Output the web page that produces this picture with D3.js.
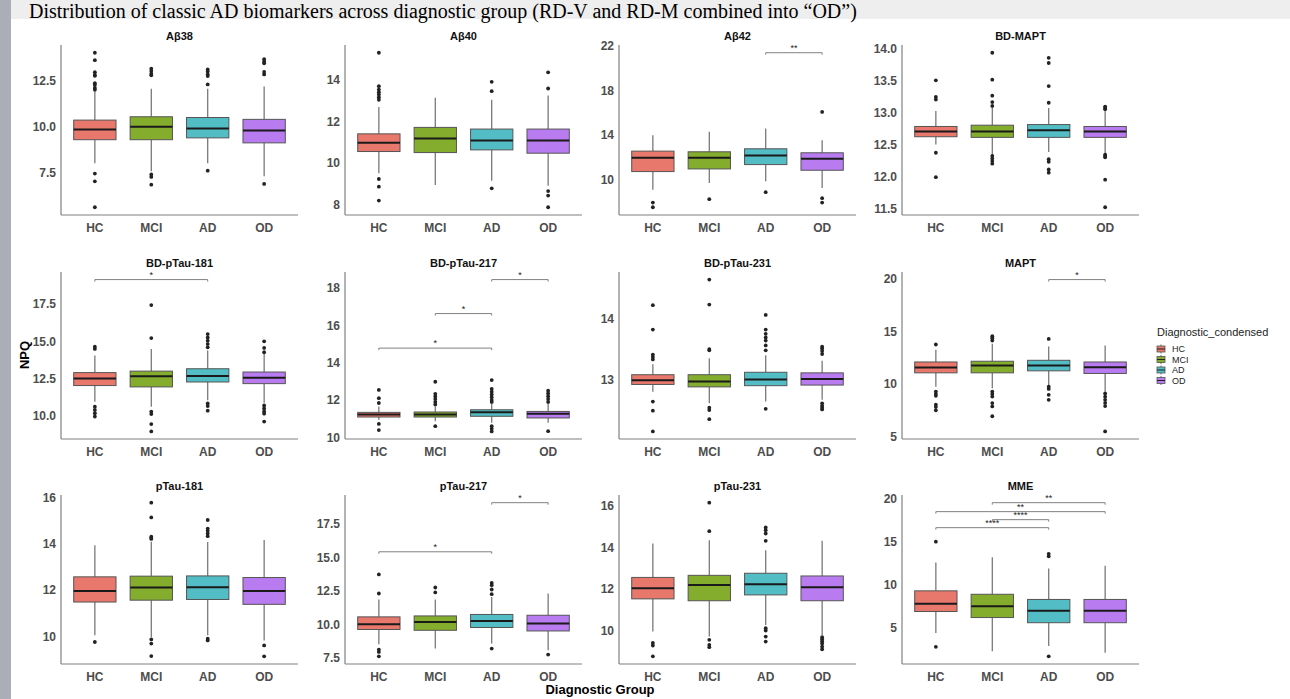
<!DOCTYPE html>
<html lang="en">
<head>
<meta charset="utf-8">
<script src="https://d3js.org/d3.v7.min.js"></script>
<style>
  body { margin: 0; background: #fff; }
  svg { display: block; font-family: "Liberation Sans", Arial, sans-serif; }
</style>
</head>
<body>
<script>
// groups and colours
const groups = ["HC", "MCI", "AD", "OD"];
const groupColors = ["#e8776c", "#84ad2e", "#52bdc4", "#b87bf0"];

// each box row: [whisker low, q1, median, q3, whisker high]
const ab38Box = [[8.03, 9.30, 9.85, 10.36, 11.9], [7.6, 9.30, 10.0, 10.54, 12.06], [8.03, 9.40, 9.91, 10.50, 12.06], [7.32, 9.13, 9.80, 10.40, 12.17]];
const ab38Out = [[14.0, 13.6, 12.95, 12.8, 12.75, 12.35, 12.25, 12.1, 12.0, 7.47, 7.05, 5.65], [13.14, 13.01, 12.87, 12.78, 7.42, 7.29, 6.87], [13.10, 12.98, 12.83, 12.74, 12.29, 7.63], [13.65, 13.52, 13.43, 12.96, 12.83, 6.91]];
const ab38Sig = [];
const ab38Ticks = [7.5, 10, 12.5];

const ab40Box = [[9.52, 10.56, 10.98, 11.41, 12.70], [8.95, 10.51, 11.19, 11.72, 13.14], [9.15, 10.64, 11.09, 11.64, 13.05], [8.92, 10.48, 11.09, 11.64, 13.25]];
const ab40Out = [[15.31, 13.70, 13.54, 13.41, 13.30, 13.17, 13.05, 9.24, 8.87, 8.20], [], [13.91, 13.46, 8.79], [14.37, 13.59, 8.66, 8.44, 7.88]];
const ab40Sig = [];
const ab40Ticks = [8, 10, 12, 14];

const ab42Box = [[9.09, 10.73, 11.97, 12.57, 13.99], [9.70, 10.97, 11.97, 12.51, 14.32], [9.85, 11.36, 12.18, 12.78, 14.6], [9.25, 10.85, 11.88, 12.42, 13.54]];
const ab42Out = [[7.94, 7.52], [8.25], [8.88], [16.1, 8.34, 7.94]];
const ab42Sig = [["AD", "OD", 21.42, "**"]];
const ab42Ticks = [10, 14, 18, 22];

const bdMaptBox = [[12.51, 12.63, 12.71, 12.79, 13.03], [12.35, 12.62, 12.71, 12.81, 13.09], [12.39, 12.62, 12.73, 12.82, 13.08], [12.37, 12.62, 12.71, 12.79, 13.05]];
const bdMaptOut = [[13.51, 13.25, 13.21, 12.38, 12.0], [13.94, 13.52, 13.27, 13.17, 13.11, 12.33, 12.29, 12.25, 12.21], [13.86, 13.78, 13.42, 13.16, 12.28, 12.24, 12.12, 12.07], [13.10, 13.08, 13.06, 12.35, 12.33, 12.31, 11.96, 11.53]];
const bdMaptSig = [];
const bdMaptTicks = [11.5, 12, 12.5, 13, 13.5, 14];

const bd181Box = [[10.95, 12.04, 12.51, 12.91, 14.06], [10.62, 11.95, 12.66, 13.01, 14.5], [11.06, 12.28, 12.68, 13.17, 14.39], [10.89, 12.17, 12.57, 12.95, 14.17]];
const bd181Out = [[14.65, 14.50, 10.62, 10.40, 10.18, 9.96], [17.45, 15.23, 10.29, 10.13, 9.45, 8.96], [15.50, 15.27, 15.05, 14.83, 14.61, 10.84, 10.66, 10.35], [15.01, 14.57, 14.28, 10.7, 10.5, 10.3, 10.15, 9.62]];
const bd181Sig = [["HC", "AD", 19.16, "*"]];
const bd181Ticks = [10, 12.5, 15, 17.5];

const bd217Box = [[10.95, 11.09, 11.23, 11.34, 11.66], [10.86, 11.09, 11.23, 11.36, 11.66], [10.78, 11.13, 11.34, 11.48, 11.84], [10.78, 11.04, 11.27, 11.39, 11.84]];
const bd217Out = [[12.54, 12.10, 11.84, 10.72, 10.39], [12.98, 12.33, 12.19, 12.05, 11.90, 11.76, 10.60], [13.07, 12.6, 12.45, 12.3, 12.15, 12.0, 11.9, 10.6, 10.46, 10.32], [12.5, 12.35, 12.2, 12.05, 11.9, 10.33]];
const bd217Sig = [["HC", "AD", 14.78, "*"], ["MCI", "AD", 16.63, "*"], ["AD", "OD", 18.45, "*"]];
const bd217Ticks = [10, 12, 14, 16, 18];

const bd231Box = [[12.81, 12.93, 13.0, 13.09, 13.26], [12.62, 12.89, 12.98, 13.09, 13.36], [12.65, 12.91, 13.01, 13.13, 13.41], [12.68, 12.92, 13.02, 13.12, 13.32]];
const bd231Out = [[14.23, 13.83, 13.42, 13.38, 13.34, 12.65, 12.50, 12.16], [14.65, 14.24, 13.51, 13.49, 12.55, 12.51, 12.36], [14.07, 13.83, 13.76, 13.70, 13.65, 13.57, 13.49, 12.53], [13.55, 13.52, 13.48, 13.43, 12.62, 12.58, 12.55, 12.52]];
const bd231Sig = [];
const bd231Ticks = [13, 14];

const maptBox = [[9.75, 11.06, 11.56, 12.09, 13.25], [9.59, 11.06, 11.75, 12.16, 13.81], [9.91, 11.25, 11.75, 12.25, 13.56], [9.28, 11.0, 11.59, 12.09, 13.66]];
const maptOut = [[13.75, 9.28, 9.06, 8.88, 8.03, 7.81, 7.50], [14.53, 14.34, 14.12, 9.28, 9.06, 8.81, 8.19, 7.87, 6.94], [14.28, 9.75, 9.53, 8.97, 8.50], [9.1, 8.8, 8.5, 8.2, 7.9, 5.5]];
const maptSig = [["AD", "OD", 19.91, "*"]];
const maptTicks = [5, 10, 15, 20];

const p181Box = [[10.05, 11.49, 11.97, 12.58, 13.95], [9.97, 11.57, 12.12, 12.61, 14.1], [10.05, 11.60, 12.13, 12.62, 14.09], [9.83, 11.39, 11.97, 12.55, 14.17]];
const p181Out = [[9.76], [15.79, 15.15, 14.32, 14.27, 14.22, 9.87, 9.69, 9.15], [15.04, 14.67, 14.57, 14.46, 14.34, 9.9, 9.83], [9.61, 9.14]];
const p181Sig = [];
const p181Ticks = [10, 12, 14, 16];

const p217Box = [[8.53, 9.63, 10.02, 10.57, 11.87], [8.21, 9.57, 10.19, 10.64, 11.87], [8.58, 9.78, 10.27, 10.75, 12.06], [8.08, 9.52, 10.07, 10.69, 12.31]];
const p217Out = [[13.73, 12.31, 8.13, 7.96, 7.63], [12.76, 12.39], [13.10, 12.93, 12.61, 12.26, 8.21], [7.76]];
const p217Sig = [["HC", "AD", 15.42, "*"], ["AD", "OD", 19.08, "*"]];
const p217Ticks = [7.5, 10, 12.5, 15, 17.5];

const p231Box = [[9.97, 11.54, 12.05, 12.57, 14.20], [9.73, 11.45, 12.21, 12.67, 14.36], [10.29, 11.73, 12.24, 12.77, 13.88], [9.81, 11.45, 12.10, 12.64, 14.33]];
const p231Out = [[9.42, 9.30, 8.78], [16.16, 14.79, 9.57, 9.33, 9.22], [14.97, 14.84, 14.68, 14.33, 10.13, 10.02, 9.73, 9.49], [9.7, 9.6, 9.5, 9.4, 9.25, 9.12]];
const p231Sig = [];
const p231Ticks = [10, 12, 14, 16];

const mmeBox = [[4.4, 6.9, 7.8, 9.3, 12.6], [2.3, 6.2, 7.5, 8.9, 13.2], [2.9, 5.6, 7.0, 8.3, 11.9], [2.1, 5.6, 7.0, 8.3, 12.2]];
const mmeOut = [[15.0, 2.8], [], [13.6, 13.3, 1.7], []];
const mmeSig = [["HC", "AD", 16.63, "****"], ["MCI", "AD", 17.56, "****"], ["HC", "OD", 18.49, "**"], ["MCI", "OD", 19.53, "**"]];
const mmeTicks = [5, 10, 15, 20];

const panelTitles = ["A\u03b238", "A\u03b240", "A\u03b242", "BD-MAPT", "BD-pTau-181", "BD-pTau-217", "BD-pTau-231", "MAPT", "pTau-181", "pTau-217", "pTau-231", "MME"];

const panels = [
  [ab38Box, ab38Out, ab38Sig, ab38Ticks],
  [ab40Box, ab40Out, ab40Sig, ab40Ticks],
  [ab42Box, ab42Out, ab42Sig, ab42Ticks],
  [bdMaptBox, bdMaptOut, bdMaptSig, bdMaptTicks],
  [bd181Box, bd181Out, bd181Sig, bd181Ticks],
  [bd217Box, bd217Out, bd217Sig, bd217Ticks],
  [bd231Box, bd231Out, bd231Sig, bd231Ticks],
  [maptBox, maptOut, maptSig, maptTicks],
  [p181Box, p181Out, p181Sig, p181Ticks],
  [p217Box, p217Out, p217Sig, p217Ticks],
  [p231Box, p231Out, p231Sig, p231Ticks],
  [mmeBox, mmeOut, mmeSig, mmeTicks]
];

// layout
const width = 1290, height = 699;
const colX = [61, 345, 619, 902];
const panelW = 237;
const rowTop = [45, 272, 495];
const rowBottom = [215, 439, 664];

const svg = d3.select("body").append("svg").attr("width", width).attr("height", height);

svg.append("rect").attr("x", 0).attr("y", 0).attr("width", width).attr("height", height).attr("fill", "#fff");
// slide title bar and left strip
svg.append("rect").attr("x", 11).attr("y", 0).attr("width", width - 11).attr("height", 19).attr("fill", "#eeeeee");
svg.append("rect").attr("x", 0).attr("y", 0).attr("width", 11).attr("height", height).attr("fill", "#a9aeb7");
svg.append("text").attr("x", 29).attr("y", 18)
  .style("font-family", "'Liberation Serif', 'Times New Roman', serif")
  .style("font-size", "20px").attr("fill", "#000")
  .text("Distribution of classic AD biomarkers across diagnostic group (RD-V and RD-M combined into \u201cOD\u201d)");

panels.forEach((p, i) => {
  const [box, out, sig, ticks] = p;
  const col = i % 4, row = Math.floor(i / 4);
  const x0 = colX[col], x1 = x0 + panelW;
  const top = rowTop[row], bottom = rowBottom[row];

  let vals = [];
  box.forEach(b => vals.push(...b));
  out.forEach(o => vals.push(...o));
  sig.forEach(s => vals.push(s[2]));
  const lo = d3.min(vals), hi = d3.max(vals), r = hi - lo;

  const y = d3.scaleLinear().domain([lo - 0.05 * r, hi + 0.05 * r]).range([bottom, top]);
  const x = d3.scalePoint().domain(groups).range([x0, x1]).padding(0.6);
  const bw = x.step() * 0.75;

  const g = svg.append("g");

  // axes
  g.append("line").attr("x1", x0).attr("x2", x0).attr("y1", top).attr("y2", bottom)
    .attr("stroke", "#808080").attr("stroke-width", 1.2);
  g.append("line").attr("x1", x0).attr("x2", x1).attr("y1", bottom).attr("y2", bottom)
    .attr("stroke", "#808080").attr("stroke-width", 1.2);

  const fmt = ticks.some(t => t % 1 !== 0) ? d3.format(".1f") : d3.format("d");
  g.selectAll(".yt").data(ticks).enter().append("text")
    .attr("x", x0 - 5).attr("y", d => y(d)).attr("dy", "0.35em")
    .attr("text-anchor", "end").attr("fill", "#4d4d4d")
    .style("font-size", "12px").style("font-weight", "bold")
    .text(d => fmt(d));

  g.selectAll(".xt").data(groups).enter().append("text")
    .attr("x", d => x(d)).attr("y", bottom + 16.5)
    .attr("text-anchor", "middle").attr("fill", "#4d4d4d")
    .style("font-size", "12px").style("font-weight", "bold")
    .text(d => d);

  g.append("text").attr("x", (x0 + x1) / 2).attr("y", top - 5)
    .attr("text-anchor", "middle").attr("fill", "#111")
    .style("font-size", "11px").style("font-weight", "bold")
    .text(panelTitles[i]);

  // boxes
  groups.forEach((grp, j) => {
    const [wl, q1, med, q3, wh] = box[j];
    const cx = x(grp);
    g.append("line").attr("x1", cx).attr("x2", cx).attr("y1", y(wh)).attr("y2", y(q3))
      .attr("stroke", "#6e6e6e").attr("stroke-width", 1.2);
    g.append("line").attr("x1", cx).attr("x2", cx).attr("y1", y(q1)).attr("y2", y(wl))
      .attr("stroke", "#6e6e6e").attr("stroke-width", 1.2);
    g.append("rect").attr("x", cx - bw / 2).attr("y", y(q3)).attr("width", bw)
      .attr("height", y(q1) - y(q3)).attr("fill", groupColors[j])
      .attr("stroke", "#555").attr("stroke-width", 1);
    g.append("line").attr("x1", cx - bw / 2).attr("x2", cx + bw / 2).attr("y1", y(med)).attr("y2", y(med))
      .attr("stroke", "#1a1a1a").attr("stroke-width", 2);
    g.selectAll(null).data(out[j]).enter().append("circle")
      .attr("cx", cx).attr("cy", d => y(d)).attr("r", 1.9).attr("fill", "#222");
  });

  // significance brackets
  sig.forEach(s => {
    const xa = x(s[0]), xb = x(s[1]), yy = y(s[2]);
    g.append("path").attr("d", `M${xa},${yy + 2}V${yy}H${xb}V${yy + 2}`)
      .attr("fill", "none").attr("stroke", "#808080").attr("stroke-width", 1);
    g.append("text").attr("x", (xa + xb) / 2).attr("y", yy - 2)
      .attr("text-anchor", "middle").attr("fill", "#222")
      .style("font-size", "9px").text(s[3]);
  });
});

// axis titles
svg.append("text").attr("transform", "translate(29,355) rotate(-90)")
  .attr("text-anchor", "middle").attr("fill", "#000")
  .style("font-size", "13px").style("font-weight", "bold").text("NPQ");
svg.append("text").attr("x", 600).attr("y", 694)
  .attr("text-anchor", "middle").attr("fill", "#000")
  .style("font-size", "13px").style("font-weight", "bold").text("Diagnostic Group");

// legend
const leg = svg.append("g");
leg.append("text").attr("x", 1157).attr("y", 336).attr("fill", "#222")
  .style("font-size", "11px").text("Diagnostic_condensed");
groups.forEach((grp, j) => {
  const cy = 349 + j * 10.5;
  leg.append("line").attr("x1", 1161).attr("x2", 1161).attr("y1", cy - 4.5).attr("y2", cy + 4.5)
    .attr("stroke", "#666").attr("stroke-width", 1);
  leg.append("rect").attr("x", 1157).attr("y", cy - 3).attr("width", 8).attr("height", 6)
    .attr("fill", groupColors[j]).attr("stroke", "#555").attr("stroke-width", 0.8);
  leg.append("line").attr("x1", 1157).attr("x2", 1165).attr("y1", cy).attr("y2", cy)
    .attr("stroke", "#222").attr("stroke-width", 1);
  leg.append("text").attr("x", 1172).attr("y", cy).attr("dy", "0.35em").attr("fill", "#222")
    .style("font-size", "9px").text(grp);
});
</script>
</body>
</html>
